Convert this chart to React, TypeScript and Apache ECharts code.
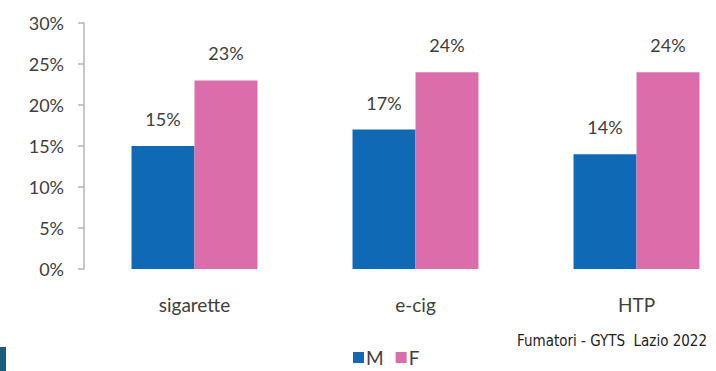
import React, { useEffect, useRef } from "react";
import * as echarts from "echarts";

const categories = ["sigarette", "e-cig", "HTP"];
const maleValues = [15, 17, 14];
const femaleValues = [23, 24, 24];
const yTicks = [0, 5, 10, 15, 20, 25, 30];

const FONT = "Lato, 'Open Sans', sans-serif";

export default function App() {
  const ref = useRef<HTMLDivElement>(null);

  useEffect(() => {
    if (!ref.current) return;
    const chart = echarts.init(ref.current, null, { renderer: "svg" });
    const label = {
      show: true,
      position: "top",
      distance: 18,
      formatter: (p: any) => `${p.value}%`,
      fontFamily: FONT,
      fontSize: 18,
      color: "#404040",
    };
    chart.setOption({
      animation: false,
      backgroundColor: "#ffffff",
      textStyle: { fontFamily: FONT },
      // the canvas is wider than the visible frame, so the last category is cut short
      grid: { left: 84, width: 663, top: 23, bottom: 102, containLabel: false },
      legend: {
        data: ["M", "F"],
        left: 348,
        top: 343,
        itemWidth: 11,
        itemHeight: 11,
        itemGap: 12,
        icon: "rect",
        textStyle: { fontFamily: FONT, fontSize: 19, color: "#404040", padding: [0, 0, 0, -3] },
      },
      xAxis: {
        type: "category",
        data: categories,
        axisLine: { show: false },
        axisTick: { show: false },
        axisLabel: { fontFamily: FONT, fontSize: 19, color: "#404040", margin: 26 },
      },
      yAxis: {
        type: "value",
        min: yTicks[0],
        max: yTicks[yTicks.length - 1],
        interval: 5,
        axisLine: { show: true, lineStyle: { color: "#b5b5b5", width: 1.5 } },
        axisTick: { show: true, inside: false, length: 6, lineStyle: { color: "#b5b5b5", width: 1.5 } },
        splitLine: { show: false },
        axisLabel: {
          formatter: (v: number) => `${v}%`,
          fontFamily: FONT,
          fontSize: 18,
          color: "#404040",
          margin: 20,
        },
      },
      series: [
        {
          name: "M",
          type: "bar",
          data: maleValues,
          barGap: "0%",
          barCategoryGap: "43%",
          itemStyle: { color: "#0f69b4" },
          label,
        },
        {
          name: "F",
          type: "bar",
          data: femaleValues,
          itemStyle: { color: "#db6eaa" },
          label,
        },
      ],
      graphic: [
        {
          type: "text",
          left: 517,
          top: 333,
          style: {
            text: "Fumatori - GYTS  Lazio 2022",
            fontFamily: "'Liberation Sans Narrow', 'DejaVu Sans Condensed', sans-serif",
            fontSize: 15,
            fill: "#222222",
          },
        },
        {
          type: "rect",
          shape: { x: 0, y: 347, width: 6, height: 24 },
          style: { fill: "#1b5f7c" },
        },
      ],
    });
    return () => chart.dispose();
  }, []);

  return (
    <div style={{ width: 716, height: 371, position: "absolute", left: 0, top: 0, overflow: "hidden", background: "#fff" }}>
      <div ref={ref} style={{ width: 760, height: 371 }} />
    </div>
  );
}
